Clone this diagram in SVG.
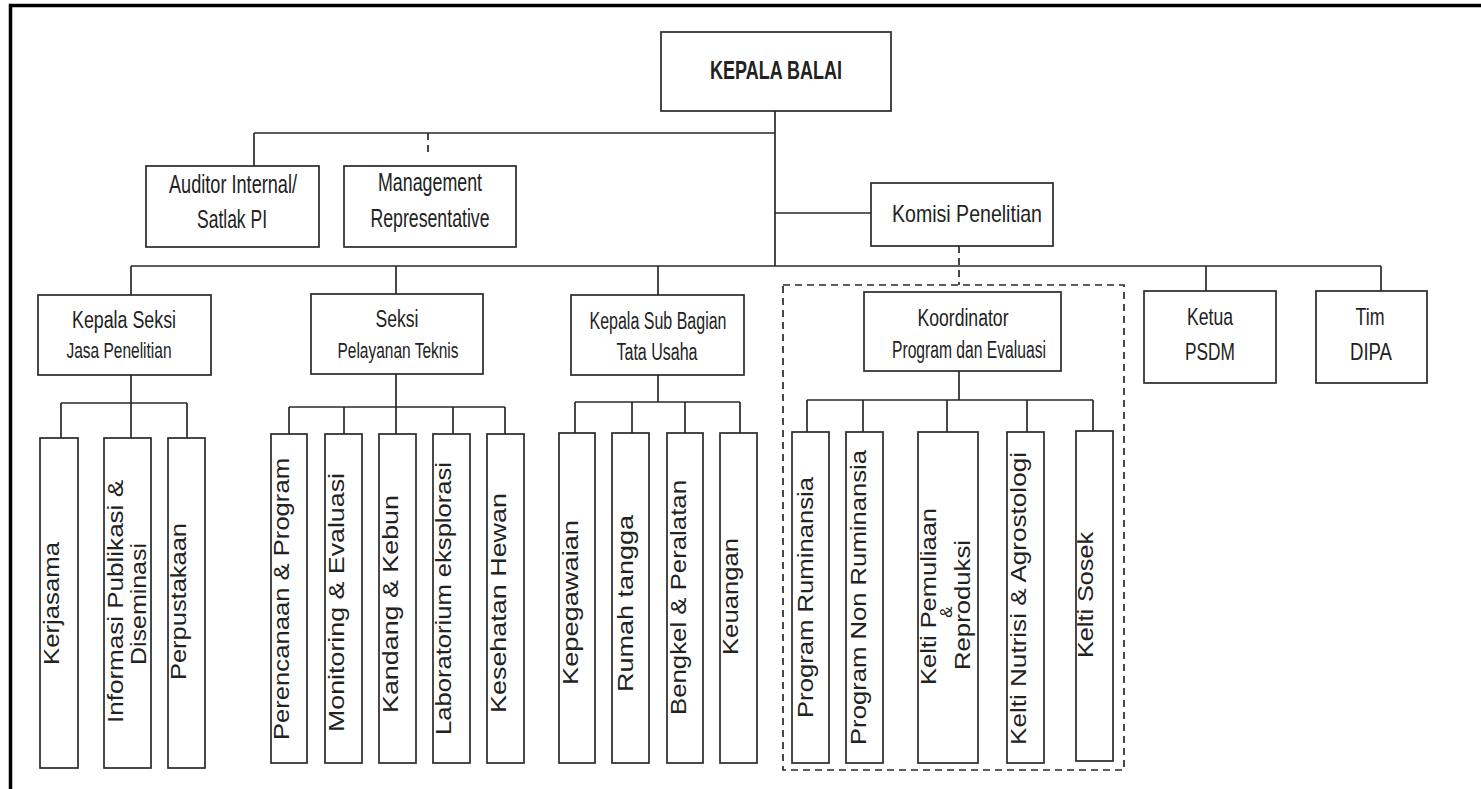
<svg xmlns="http://www.w3.org/2000/svg" width="1481" height="789" viewBox="0 0 1481 789">
<style>
.box{fill:#fff;stroke:#2a2a2a;stroke-width:1.7}
.ln{fill:none;stroke:#2a2a2a;stroke-width:1.7}
.dash{stroke-dasharray:7 5}
.frame{fill:none;stroke:#000;stroke-width:3.5}
text{font-family:"Liberation Sans",Arial,sans-serif;fill:#222}
.h{text-anchor:middle}
.v{font-size:22px}
</style>
<rect width="1481" height="789" fill="#fff"/>
<path class="frame" d="M10.5 789 V5.5 H1481"/>
<g id="connectors">
<path class="ln" d="M775 111 V266 M254 133 H775 M254 133 V166 M775 213 H871"/>
<path class="ln dash" d="M428 133 V153 M959 246 V285"/>
<path class="ln" d="M131 266 H1381 M131 266 V295 M396 266 V294 M658 266 V295 M1206 266 V291 M1381 266 V291"/>
<path class="ln" d="M131 375 V403 M61 403 H187 M61 403 V438 M131 403 V438 M187 403 V438"/>
<path class="ln" d="M396 374 V407 M289 407 H505 M289 407 V434 M344 407 V434 M396 407 V434 M453 407 V434 M505 407 V434"/>
<path class="ln" d="M658 375 V402 M575 402 H740 M575 402 V433 M632 402 V433 M685 402 V433 M740 402 V433"/>
<path class="ln" d="M959 371 V400 M807 400 H1093 M807 400 V432 M863 400 V432 M947 400 V432 M1027 400 V432 M1093 400 V431"/>
</g>
<g id="kepala-balai"><rect class="box" x="661" y="32" width="230" height="79"/><text class="h" x="776" y="79" font-size="25" font-weight="bold" textLength="132" lengthAdjust="spacingAndGlyphs">KEPALA BALAI</text></g>
<g id="auditor"><rect class="box" x="146" y="166" width="173" height="81"/><text class="h" x="233" y="193" font-size="25" textLength="128" lengthAdjust="spacingAndGlyphs">Auditor Internal/</text><text class="h" x="232" y="228" font-size="25" textLength="70" lengthAdjust="spacingAndGlyphs">Satlak PI</text></g>
<g id="management"><rect class="box" x="344" y="166" width="172" height="81"/><text class="h" x="430" y="191" font-size="25" textLength="104" lengthAdjust="spacingAndGlyphs">Management</text><text class="h" x="430" y="227" font-size="25" textLength="119" lengthAdjust="spacingAndGlyphs">Representative</text></g>
<g id="komisi"><rect class="box" x="871" y="183" width="182" height="63"/><text class="h" x="967" y="222" font-size="24" textLength="150" lengthAdjust="spacingAndGlyphs">Komisi Penelitian</text></g>
<g id="kepala-seksi"><rect class="box" x="38" y="295" width="173" height="80"/><text class="h" x="124" y="328" font-size="23" textLength="104" lengthAdjust="spacingAndGlyphs">Kepala Seksi</text><text class="h" x="119" y="358" font-size="22" textLength="105" lengthAdjust="spacingAndGlyphs">Jasa Penelitian</text></g>
<g id="seksi"><rect class="box" x="311" y="294" width="172" height="80"/><text class="h" x="397" y="327" font-size="23" textLength="43" lengthAdjust="spacingAndGlyphs">Seksi</text><text class="h" x="398" y="358" font-size="22" textLength="121" lengthAdjust="spacingAndGlyphs">Pelayanan Teknis</text></g>
<g id="sub-bagian"><rect class="box" x="571" y="295" width="173" height="80"/><text class="h" x="658" y="329" font-size="23" textLength="137" lengthAdjust="spacingAndGlyphs">Kepala Sub Bagian</text><text class="h" x="657" y="360" font-size="23" textLength="81" lengthAdjust="spacingAndGlyphs">Tata Usaha</text></g>
<g id="koordinator-group"><rect class="ln dash" x="783" y="285" width="341" height="485"/></g>
<g id="koordinator"><rect class="box" x="864" y="292" width="197" height="79"/><text class="h" x="963" y="326" font-size="23" textLength="91" lengthAdjust="spacingAndGlyphs">Koordinator</text><text class="h" x="969" y="358" font-size="23" textLength="154" lengthAdjust="spacingAndGlyphs">Program dan Evaluasi</text></g>
<g id="ketua-psdm"><rect class="box" x="1144" y="291" width="132" height="92"/><text class="h" x="1210" y="325" font-size="24" textLength="46" lengthAdjust="spacingAndGlyphs">Ketua</text><text class="h" x="1210" y="360" font-size="24" textLength="50" lengthAdjust="spacingAndGlyphs">PSDM</text></g>
<g id="tim-dipa"><rect class="box" x="1316" y="291" width="111" height="92"/><text class="h" x="1370" y="325" font-size="24" textLength="29" lengthAdjust="spacingAndGlyphs">Tim</text><text class="h" x="1371" y="360" font-size="24" textLength="42" lengthAdjust="spacingAndGlyphs">DIPA</text></g>
<g id="kerjasama"><rect class="box" x="40" y="438" width="38" height="330"/><text class="v" transform="translate(59 665) rotate(-90)" textLength="123" lengthAdjust="spacingAndGlyphs">Kerjasama</text></g>
<g id="informasi"><rect class="box" x="104" y="438" width="47" height="330"/><text class="v" transform="translate(123 723) rotate(-90)" textLength="243" lengthAdjust="spacingAndGlyphs">Informasi Publikasi &amp;</text><text class="v" transform="translate(146 665) rotate(-90)" textLength="122" lengthAdjust="spacingAndGlyphs">Diseminasi</text></g>
<g id="perpustakaan"><rect class="box" x="168" y="438" width="37" height="330"/><text class="v" transform="translate(186 680) rotate(-90)" textLength="157" lengthAdjust="spacingAndGlyphs">Perpustakaan</text></g>
<g id="perencanaan"><rect class="box" x="271" y="434" width="36" height="329"/><text class="v" transform="translate(289 740) rotate(-90)" textLength="282" lengthAdjust="spacingAndGlyphs">Perencanaan &amp; Program</text></g>
<g id="monitoring"><rect class="box" x="325" y="434" width="37" height="329"/><text class="v" transform="translate(344 732) rotate(-90)" textLength="259" lengthAdjust="spacingAndGlyphs">Monitoring &amp; Evaluasi</text></g>
<g id="kandang"><rect class="box" x="379" y="434" width="37" height="329"/><text class="v" transform="translate(398 713) rotate(-90)" textLength="218" lengthAdjust="spacingAndGlyphs">Kandang &amp; Kebun</text></g>
<g id="laboratorium"><rect class="box" x="433" y="434" width="37" height="329"/><text class="v" transform="translate(451 735) rotate(-90)" textLength="273" lengthAdjust="spacingAndGlyphs">Laboratorium eksplorasi</text></g>
<g id="kesehatan"><rect class="box" x="487" y="434" width="37" height="329"/><text class="v" transform="translate(506 713) rotate(-90)" textLength="220" lengthAdjust="spacingAndGlyphs">Kesehatan Hewan</text></g>
<g id="kepegawaian"><rect class="box" x="559" y="433" width="36" height="330"/><text class="v" transform="translate(578 685) rotate(-90)" textLength="165" lengthAdjust="spacingAndGlyphs">Kepegawaian</text></g>
<g id="rumah-tangga"><rect class="box" x="612" y="433" width="37" height="330"/><text class="v" transform="translate(633 692) rotate(-90)" textLength="177" lengthAdjust="spacingAndGlyphs">Rumah tangga</text></g>
<g id="bengkel"><rect class="box" x="667" y="433" width="36" height="330"/><text class="v" transform="translate(686 715) rotate(-90)" textLength="235" lengthAdjust="spacingAndGlyphs">Bengkel &amp; Peralatan</text></g>
<g id="keuangan"><rect class="box" x="720" y="433" width="37" height="330"/><text class="v" transform="translate(738 655) rotate(-90)" textLength="117" lengthAdjust="spacingAndGlyphs">Keuangan</text></g>
<g id="program-ruminansia"><rect class="box" x="792" y="432" width="37" height="331"/><text class="v" transform="translate(813 718) rotate(-90)" textLength="241" lengthAdjust="spacingAndGlyphs">Program Ruminansia</text></g>
<g id="program-non-ruminansia"><rect class="box" x="846" y="432" width="37" height="331"/><text class="v" transform="translate(866 745) rotate(-90)" textLength="295" lengthAdjust="spacingAndGlyphs">Program Non Ruminansia</text></g>
<g id="kelti-pemuliaan"><rect class="box" x="918" y="432" width="60" height="331"/><text class="v" transform="translate(936 685) rotate(-90)" textLength="177" lengthAdjust="spacingAndGlyphs">Kelti Pemuliaan</text><text transform="translate(952 612) rotate(-90)" font-size="17" text-anchor="middle">&amp;</text><text class="v" transform="translate(970 670) rotate(-90)" textLength="130" lengthAdjust="spacingAndGlyphs">Reproduksi</text></g>
<g id="kelti-nutrisi"><rect class="box" x="1007" y="432" width="37" height="331"/><text class="v" transform="translate(1026 745) rotate(-90)" textLength="293" lengthAdjust="spacingAndGlyphs">Kelti Nutrisi &amp; Agrostologi</text></g>
<g id="kelti-sosek"><rect class="box" x="1076" y="431" width="37" height="330"/><text class="v" transform="translate(1093 658) rotate(-90)" textLength="126" lengthAdjust="spacingAndGlyphs">Kelti Sosek</text></g>
</svg>
